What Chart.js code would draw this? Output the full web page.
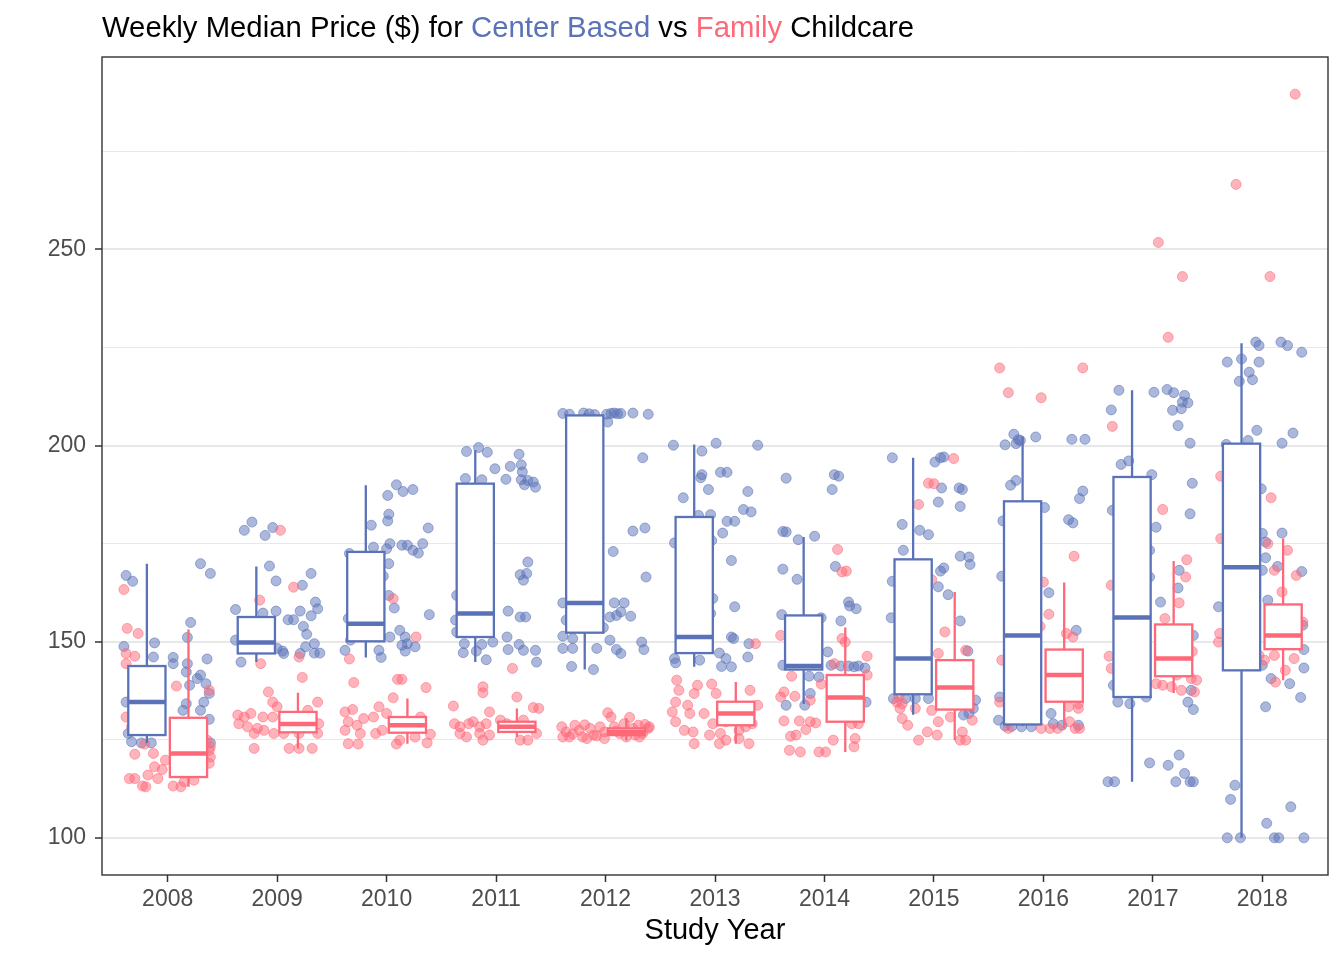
<!DOCTYPE html>
<html>
<head>
<meta charset="utf-8">
<script src="https://cdn.jsdelivr.net/npm/chart.js@4.4.0/dist/chart.umd.min.js"></script>
<style>
  body { margin: 0; background: #fff; }
  #wrap { position: relative; width: 1344px; height: 960px; }
  #title {
    position: absolute; left: 102px; top: 12px;
    font-family: "Liberation Sans", Arial, Helvetica, sans-serif;
    font-size: 29.3px; line-height: 29px; color: #000; white-space: nowrap;
  }
  .cb { color: #5a72b8; }
  .fam { color: #ff6878; }
</style>
</head>
<body>
<div id="wrap">
  <canvas id="boxChart" width="1344" height="960"></canvas>
  <div id="title">Weekly Median Price ($) for <span class="cb">Center Based</span> vs <span class="fam">Family</span> Childcare</div>
</div>
<script>
const years = [2008, 2009, 2010, 2011, 2012, 2013, 2014, 2015, 2016, 2017, 2018];
const yTickValues = [100, 125, 150, 175, 200, 225, 250, 275];
const yTickLabels = ['100', '', '150', '', '200', '', '250', ''];

// box stats: [lower whisker, q1, median, q3, upper whisker]
const centerBox = [
  [124.2, 126.2, 134.6, 143.8, 169.9],
  [144.8, 147.0, 149.8, 156.3, 169.2],
  [146.0, 150.1, 154.6, 172.9, 189.9],
  [144.8, 151.2, 157.2, 190.3, 198.9],
  [142.9, 152.3, 159.9, 207.7, 208.3],
  [143.6, 147.1, 151.2, 181.8, 200.3],
  [134.1, 142.9, 143.8, 156.7, 176.7],
  [131.4, 136.6, 145.7, 171.0, 196.9],
  [128.5, 128.9, 151.6, 185.8, 202.3],
  [114.3, 135.9, 156.2, 192.0, 214.1],
  [100.0, 142.7, 169.0, 200.5, 226.1]
];
const familyBox = [
  [113.0, 115.5, 121.5, 130.6, 153.1],
  [122.8, 126.9, 129.0, 132.1, 137.0],
  [124.0, 126.8, 128.7, 130.8, 135.5],
  [125.7, 127.0, 128.3, 129.6, 133.0],
  [124.8, 126.2, 127.0, 127.9, 130.5],
  [124.0, 128.7, 131.7, 134.7, 139.7],
  [121.9, 129.6, 135.8, 141.5, 153.6],
  [124.9, 132.7, 138.3, 145.3, 162.7],
  [127.9, 134.7, 141.5, 148.0, 165.1],
  [136.9, 141.2, 145.7, 154.4, 170.6],
  [140.2, 148.1, 151.6, 159.5, 176.3]
];

// jittered points: [year, jitter, price]
const centerPts = [
  [2008,-0.38,166.9],[2008,-0.32,165.4],[2008,0.30,169.9],[2008,0.39,167.4],[2008,0.21,154.9],[2008,0.18,151.1],
  [2008,-0.12,149.7],[2008,-0.40,148.8],[2008,-0.13,146.1],[2008,0.05,146.0],[2008,0.36,145.6],[2008,0.05,144.4],
  [2008,0.18,144.4],[2008,0.17,142.3],[2008,0.30,141.5],[2008,0.27,140.6],[2008,0.35,139.3],[2008,0.20,138.9],
  [2008,0.38,136.8],[2008,0.33,134.6],[2008,-0.38,134.6],[2008,0.17,134.2],[2008,0.14,132.5],[2008,0.30,132.5],
  [2008,0.38,130.2],[2008,-0.36,126.6],[2008,-0.33,124.5],[2008,-0.24,124.2],[2008,-0.15,124.2],[2008,0.39,124.2],
  [2009,-0.30,178.4],[2009,-0.23,180.5],[2009,-0.11,177.1],[2009,-0.04,179.1],[2009,-0.07,169.3],[2009,-0.01,165.5],
  [2009,0.31,167.4],[2009,0.23,164.4],[2009,-0.38,158.2],[2009,-0.13,157.3],[2009,-0.01,157.8],[2009,0.21,157.8],
  [2009,0.35,160.1],[2009,0.37,158.4],[2009,0.31,156.6],[2009,0.10,155.6],[2009,0.15,155.6],[2009,0.24,153.9],
  [2009,0.27,151.9],[2009,-0.38,150.4],[2009,-0.33,144.8],[2009,0.05,147.6],[2009,0.21,147.0],[2009,0.26,148.7],
  [2009,0.34,149.5],[2009,0.34,147.1],[2009,0.39,147.1],[2009,0.00,148.3],[2009,0.06,147.0],
  [2010,0.09,190.0],[2010,0.15,188.3],[2010,0.24,188.8],[2010,0.01,187.3],[2010,0.02,182.5],[2010,0.01,180.8],
  [2010,-0.14,179.7],[2010,0.38,179.0],[2010,0.03,175.0],[2010,0.14,174.6],[2010,0.19,174.6],[2010,0.24,173.3],
  [2010,0.29,172.6],[2010,0.33,175.0],[2010,-0.12,174.1],[2010,-0.34,172.5],[2010,0.00,173.7],[2010,0.02,169.9],
  [2010,-0.03,166.7],[2010,0.02,161.8],[2010,0.07,158.6],[2010,0.39,156.9],[2010,-0.35,155.9],[2010,0.12,152.9],
  [2010,0.03,151.2],[2010,0.17,151.2],[2010,0.19,149.5],[2010,0.26,148.7],[2010,0.14,149.1],[2010,-0.33,150.4],
  [2010,-0.38,147.8],[2010,-0.07,147.8],[2010,-0.05,146.0],[2010,0.17,147.6],
  [2011,-0.27,198.5],[2011,-0.16,199.5],[2011,-0.08,198.3],[2011,-0.01,194.1],[2011,0.13,194.7],[2011,0.21,197.8],
  [2011,0.23,195.1],[2011,0.24,193.3],[2011,0.09,191.4],[2011,0.23,191.3],[2011,0.29,191.1],[2011,0.34,190.7],
  [2011,0.26,190.0],[2011,0.36,189.4],[2011,-0.28,191.6],[2011,-0.13,191.3],[2011,0.29,170.3],[2011,0.22,167.1],
  [2011,0.28,167.4],[2011,0.25,165.7],[2011,-0.36,161.8],[2011,0.11,157.8],[2011,-0.37,155.5],[2011,0.22,156.3],
  [2011,0.27,156.3],[2011,-0.36,152.5],[2011,-0.29,149.5],[2011,-0.30,147.2],[2011,-0.13,149.3],[2011,-0.03,149.9],
  [2011,0.10,151.2],[2011,0.11,148.0],[2011,0.21,149.3],[2011,0.25,147.8],[2011,0.36,147.8],[2011,-0.09,145.4],
  [2011,0.37,144.8],[2011,-0.18,147.6],
  [2012,-0.39,208.2],[2012,-0.33,208.0],[2012,-0.20,208.3],[2012,-0.15,208.1],[2012,-0.10,207.9],[2012,0.01,208.0],
  [2012,0.05,208.2],[2012,0.08,208.3],[2012,0.11,208.1],[2012,0.14,208.2],[2012,0.25,208.3],[2012,0.39,208.0],
  [2012,0.02,206.0],[2012,0.34,196.9],[2012,0.25,178.2],[2012,0.36,179.0],[2012,0.07,173.0],[2012,0.37,166.5],
  [2012,-0.39,159.9],[2012,0.08,159.9],[2012,0.17,159.9],[2012,0.14,157.6],[2012,0.10,156.7],[2012,0.04,156.3],
  [2012,0.23,156.5],[2012,-0.36,155.5],[2012,-0.02,153.6],[2012,-0.39,151.4],[2012,-0.30,150.8],[2012,0.04,150.4],
  [2012,-0.39,148.3],[2012,-0.30,148.3],[2012,-0.08,148.3],[2012,0.10,148.0],[2012,0.14,147.0],[2012,0.33,149.9],
  [2012,0.35,148.0],[2012,-0.31,143.7],[2012,-0.11,142.9],
  [2013,-0.38,200.1],[2013,0.01,200.6],[2013,0.39,200.1],[2013,-0.12,198.6],[2013,-0.12,192.6],[2013,-0.13,191.8],
  [2013,0.05,193.2],[2013,0.11,193.2],[2013,-0.06,188.8],[2013,0.30,188.3],[2013,-0.29,186.7],[2013,0.26,183.7],
  [2013,0.33,183.1],[2013,-0.15,182.2],[2013,-0.04,182.4],[2013,0.11,180.7],[2013,0.18,180.7],[2013,0.07,177.7],
  [2013,-0.37,175.2],[2013,-0.03,175.8],[2013,0.15,170.7],[2013,-0.02,161.0],[2013,-0.04,157.2],[2013,0.18,158.9],
  [2013,0.15,151.2],[2013,0.17,150.8],[2013,0.31,149.5],[2013,0.30,146.1],[2013,0.04,147.1],[2013,0.10,145.7],
  [2013,-0.37,145.7],[2013,-0.36,144.6],[2013,-0.14,145.3],[2013,0.06,143.7],[2013,0.15,143.6],
  [2014,-0.35,191.7],[2014,0.09,192.6],[2014,0.13,192.2],[2014,0.07,188.8],[2014,-0.38,178.1],[2014,-0.35,178.0],
  [2014,-0.24,176.0],[2014,-0.09,176.9],[2014,-0.38,168.5],[2014,-0.25,165.9],[2014,0.10,169.2],[2014,0.22,160.1],
  [2014,0.23,159.1],[2014,0.29,158.4],[2014,-0.39,156.9],[2014,-0.03,156.1],[2014,0.15,155.3],[2014,0.03,147.4],
  [2014,0.06,144.0],[2014,0.15,143.8],[2014,0.22,143.8],[2014,0.27,143.6],[2014,0.31,143.8],[2014,0.37,143.3],
  [2014,-0.38,144.0],[2014,-0.14,141.2],[2014,-0.05,141.0],[2014,-0.13,136.8],[2014,-0.35,133.8],[2014,-0.18,133.8],
  [2014,0.38,134.6],
  [2015,-0.38,196.9],[2015,0.01,195.8],[2015,0.06,196.9],[2015,0.09,197.1],[2015,0.07,189.2],[2015,0.23,189.2],
  [2015,0.26,188.8],[2015,0.24,184.5],[2015,0.04,185.6],[2015,-0.29,179.9],[2015,-0.13,178.4],[2015,-0.05,177.3],
  [2015,-0.28,173.3],[2015,0.24,171.8],[2015,0.32,171.6],[2015,0.33,169.7],[2015,0.06,168.0],[2015,0.09,168.8],
  [2015,-0.38,165.4],[2015,0.04,164.0],[2015,0.13,162.0],[2015,-0.39,156.1],[2015,0.24,155.3],[2015,0.31,147.6],
  [2015,-0.37,135.5],[2015,-0.26,135.5],[2015,-0.17,135.5],[2015,-0.05,135.5],[2015,0.27,131.3],[2015,0.32,131.7],
  [2015,0.38,135.1],[2015,0.36,133.0],
  [2016,-0.35,200.2],[2016,-0.27,202.9],[2016,-0.23,201.5],[2016,-0.21,201.3],[2016,-0.25,200.5],[2016,-0.07,202.2],
  [2016,0.26,201.6],[2016,0.38,201.6],[2016,-0.25,191.1],[2016,-0.30,189.9],[2016,0.01,184.2],[2016,0.36,188.4],
  [2016,0.33,186.5],[2016,0.23,181.1],[2016,0.27,180.3],[2016,-0.37,180.8],[2016,-0.38,166.7],[2016,0.05,162.5],
  [2016,0.30,152.9],[2016,-0.40,135.9],[2016,0.07,131.7],[2016,-0.41,130.0],[2016,-0.35,128.5],[2016,-0.29,128.4],
  [2016,-0.20,128.3],[2016,-0.11,128.3],[2016,0.09,129.1],[2016,0.17,128.7],[2016,0.32,128.7],
  [2017,-0.31,214.1],[2017,-0.38,209.1],[2017,0.01,213.6],[2017,0.13,214.3],[2017,0.19,213.5],[2017,0.29,212.8],
  [2017,0.27,211.1],[2017,0.32,210.9],[2017,0.26,209.4],[2017,0.18,209.0],[2017,0.23,205.1],[2017,0.34,200.6],
  [2017,-0.29,195.2],[2017,-0.22,196.1],[2017,-0.01,192.6],[2017,0.36,190.4],[2017,-0.37,183.5],[2017,0.03,179.2],
  [2017,0.34,182.6],[2017,-0.03,173.3],[2017,-0.03,166.5],[2017,0.24,168.2],[2017,0.23,163.7],[2017,0.07,160.1],
  [2017,0.37,151.6],[2017,-0.36,138.9],[2017,-0.32,134.6],[2017,-0.21,134.2],[2017,-0.06,135.9],[2017,0.32,134.6],
  [2017,0.37,132.7],[2017,0.35,137.6],[2017,-0.03,119.1],[2017,0.14,118.5],[2017,0.24,121.1],[2017,0.29,116.4],
  [2017,-0.41,114.3],[2017,-0.35,114.3],[2017,0.21,114.3],[2017,0.34,114.3],[2017,0.37,114.3],
  [2018,-0.32,221.3],[2018,-0.19,222.1],[2018,-0.06,226.4],[2018,-0.03,225.5],[2018,-0.03,221.3],[2018,-0.12,218.7],
  [2018,-0.21,216.4],[2018,-0.09,216.8],[2018,0.17,226.4],[2018,0.23,225.5],[2018,0.36,223.8],[2018,-0.05,203.9],
  [2018,0.28,203.2],[2018,0.18,200.6],[2018,-0.13,201.3],[2018,-0.33,200.3],[2018,-0.01,189.0],[2018,0.00,177.6],
  [2018,0.03,175.4],[2018,0.18,177.7],[2018,0.03,171.4],[2018,0.00,168.2],[2018,0.14,169.2],[2018,0.36,167.9],
  [2018,-0.40,158.9],[2018,0.05,160.6],[2018,0.37,154.2],[2018,0.38,148.0],[2018,0.38,143.3],[2018,0.00,144.0],
  [2018,0.25,139.3],[2018,0.08,140.6],[2018,0.35,135.8],[2018,0.03,133.4],[2018,-0.25,113.4],[2018,-0.29,109.8],
  [2018,0.26,107.9],[2018,0.04,103.7],[2018,-0.32,100.0],[2018,-0.20,100.0],[2018,0.11,100.0],[2018,0.15,100.0],
  [2018,0.38,100.0]
];

const familyPts = [
  [2008,-0.40,163.3],[2008,-0.37,153.4],[2008,-0.27,152.1],[2008,-0.38,147.0],[2008,-0.30,146.3],[2008,-0.38,144.4],
  [2008,0.08,138.7],[2008,0.38,137.6],[2008,-0.38,130.8],[2008,-0.33,128.3],[2008,-0.21,123.9],[2008,-0.30,121.3],
  [2008,-0.13,121.5],[2008,-0.02,119.8],[2008,-0.12,118.1],[2008,-0.05,117.4],[2008,-0.35,115.1],[2008,-0.30,115.1],
  [2008,-0.18,116.0],[2008,-0.09,115.1],[2008,-0.23,113.2],[2008,-0.20,113.0],[2008,0.05,113.2],[2008,0.12,113.0],
  [2008,0.15,114.3],[2008,0.24,114.7],[2008,0.38,122.3],[2008,0.39,120.6],[2008,0.38,119.0],[2008,0.39,123.2],
  [2008,0.36,124.9],
  [2009,0.03,178.4],[2009,0.15,163.9],[2009,-0.16,160.6],[2009,-0.15,144.4],[2009,0.20,146.1],[2009,0.23,140.9],
  [2009,-0.08,137.2],[2009,-0.04,134.6],[2009,0.00,133.4],[2009,-0.36,131.3],[2009,-0.30,130.8],[2009,-0.24,131.7],
  [2009,-0.35,129.1],[2009,-0.27,128.3],[2009,-0.18,127.9],[2009,-0.12,127.4],[2009,-0.21,126.6],[2009,-0.03,126.6],
  [2009,-0.13,130.8],[2009,-0.04,130.8],[2009,-0.21,122.8],[2009,0.11,122.8],[2009,0.20,122.8],[2009,0.32,122.8],
  [2009,0.06,126.6],[2009,0.37,126.6],[2009,0.37,134.6],[2009,0.28,132.5],[2009,0.38,129.1],[2009,0.20,126.6],
  [2010,0.06,161.0],[2010,0.27,151.2],[2010,-0.34,145.6],[2010,-0.30,139.6],[2010,0.10,140.4],[2010,0.14,140.4],
  [2010,0.36,138.3],[2010,0.06,135.7],[2010,-0.38,132.1],[2010,-0.31,132.7],[2010,-0.21,130.4],[2010,-0.07,133.4],
  [2010,-0.12,130.8],[2010,0.00,131.7],[2010,-0.35,129.6],[2010,-0.27,128.7],[2010,-0.38,127.4],[2010,-0.24,126.6],
  [2010,-0.10,126.6],[2010,-0.04,127.4],[2010,-0.35,124.0],[2010,-0.26,123.9],[2010,0.09,123.9],[2010,0.12,124.9],
  [2010,0.26,125.7],[2010,0.37,124.2],[2010,0.40,126.4],[2010,0.31,130.8],
  [2011,0.15,143.2],[2011,-0.12,138.5],[2011,-0.12,137.0],[2011,0.19,135.9],[2011,-0.39,133.6],[2011,0.34,133.2],
  [2011,0.39,133.0],[2011,-0.06,132.1],[2011,-0.38,129.1],[2011,-0.33,128.3],[2011,-0.25,129.1],[2011,-0.21,129.6],
  [2011,-0.15,128.3],[2011,-0.09,129.1],[2011,-0.33,126.6],[2011,-0.27,125.7],[2011,-0.15,126.6],[2011,-0.06,126.2],
  [2011,0.04,130.0],[2011,0.10,129.1],[2011,0.25,130.0],[2011,0.31,128.3],[2011,0.37,126.6],[2011,0.22,124.9],
  [2011,0.29,124.9],[2011,-0.12,124.9],
  [2012,-0.40,128.3],[2012,-0.36,127.0],[2012,-0.33,125.7],[2012,-0.28,128.7],[2012,-0.24,127.4],[2012,-0.21,125.7],
  [2012,-0.14,127.9],[2012,-0.11,126.2],[2012,-0.05,128.3],[2012,-0.01,127.0],[2012,0.02,131.9],[2012,0.05,130.8],
  [2012,0.08,128.3],[2012,0.13,126.6],[2012,0.17,129.1],[2012,0.22,130.7],[2012,0.25,127.9],[2012,0.30,128.7],
  [2012,0.34,126.6],[2012,0.39,127.9],[2012,0.40,128.3],[2012,-0.01,125.3],[2012,-0.17,125.3],[2012,0.19,125.7],
  [2012,0.31,125.7],[2012,-0.39,125.7],[2012,-0.30,126.5],[2012,-0.08,126.0],[2012,0.10,127.2],[2012,0.27,126.2],
  [2012,0.36,128.9],[2012,-0.19,128.8],
  [2013,0.37,149.5],[2013,-0.35,140.2],[2013,-0.16,138.9],[2013,-0.03,139.2],[2013,-0.19,136.8],[2013,-0.33,137.6],
  [2013,0.01,136.8],[2013,0.32,137.6],[2013,-0.39,132.1],[2013,-0.36,134.6],[2013,-0.25,133.8],[2013,-0.23,131.7],
  [2013,-0.10,131.7],[2013,-0.02,129.1],[2013,-0.36,129.6],[2013,-0.28,127.4],[2013,-0.20,127.0],[2013,-0.05,126.2],
  [2013,-0.19,124.0],[2013,0.04,124.0],[2013,0.10,124.9],[2013,0.22,125.3],[2013,0.31,124.0],[2013,0.34,129.1],
  [2013,0.39,133.8],[2013,0.28,128.3],[2013,0.22,127.4],[2013,0.05,126.6],[2013,0.10,129.6],
  [2014,0.12,173.5],[2014,0.16,167.8],[2014,0.20,168.0],[2014,-0.40,151.6],[2014,0.16,150.8],[2014,0.19,149.9],
  [2014,0.39,146.3],[2014,0.09,144.4],[2014,-0.30,141.2],[2014,-0.03,139.2],[2014,-0.37,137.2],[2014,-0.40,135.9],
  [2014,-0.13,135.1],[2014,-0.27,136.1],[2014,-0.37,129.8],[2014,-0.23,129.8],[2014,-0.13,129.6],[2014,-0.08,129.3],
  [2014,-0.17,127.6],[2014,-0.31,125.9],[2014,-0.26,126.2],[2014,-0.32,122.3],[2014,-0.22,121.9],[2014,-0.05,121.9],
  [2014,0.01,121.9],[2014,0.08,124.9],[2014,0.27,123.2],[2014,0.28,125.3],[2014,0.31,129.1],[2014,0.25,129.1],
  [2014,0.39,141.5],[2014,0.33,135.1],
  [2015,0.18,196.7],[2015,-0.05,190.4],[2015,0.00,190.3],[2015,-0.14,185.0],[2015,-0.02,165.8],[2015,0.10,152.5],
  [2015,0.29,147.8],[2015,0.04,147.0],[2015,-0.34,134.6],[2015,-0.29,134.2],[2015,-0.31,133.0],[2015,-0.17,133.0],
  [2015,-0.02,132.5],[2015,-0.29,130.4],[2015,-0.24,128.7],[2015,0.04,129.6],[2015,0.15,130.8],[2015,-0.06,127.0],
  [2015,0.03,126.2],[2015,-0.14,124.9],[2015,0.26,127.0],[2015,0.24,124.9],[2015,0.29,124.9],[2015,0.35,130.0],
  [2015,-0.32,135.9],
  [2016,-0.40,219.8],[2016,-0.32,213.5],[2016,-0.02,212.2],[2016,0.36,219.8],[2016,0.28,171.8],[2016,0.00,165.2],
  [2016,0.05,157.0],[2016,0.21,152.1],[2016,0.27,151.2],[2016,-0.03,153.9],[2016,-0.38,145.3],[2016,-0.40,134.6],
  [2016,0.32,134.2],[2016,0.32,133.0],[2016,0.24,129.6],[2016,-0.32,127.9],[2016,-0.02,127.9],[2016,0.06,127.9],
  [2016,0.13,127.9],[2016,0.29,127.9],[2016,0.33,127.9],[2016,0.23,133.4],[2016,0.32,138.5],
  [2017,0.14,227.6],[2017,0.05,251.8],[2017,0.27,243.1],[2017,-0.37,204.9],[2017,0.09,183.7],[2017,0.31,170.9],
  [2017,0.30,166.5],[2017,0.24,159.9],[2017,0.11,155.9],[2017,-0.38,164.4],[2017,-0.40,146.3],[2017,-0.38,143.2],
  [2017,0.03,139.3],[2017,0.09,138.9],[2017,0.17,138.5],[2017,0.35,140.6],[2017,0.40,140.2],[2017,0.26,137.6],
  [2017,0.38,137.2],[2017,0.22,141.5],[2017,0.31,143.0],[2017,0.36,147.5],
  [2018,-0.24,266.6],[2018,0.07,243.1],[2018,0.30,289.6],[2018,0.08,186.7],[2018,-0.38,192.2],[2018,-0.38,176.3],
  [2018,0.05,175.0],[2018,0.23,173.3],[2018,0.31,166.9],[2018,0.11,168.2],[2018,0.18,162.7],[2018,-0.39,152.1],
  [2018,-0.40,149.9],[2018,0.11,146.5],[2018,0.29,145.7],[2018,0.12,139.7],[2018,0.21,142.7],[2018,0.02,145.3],
  [2018,0.37,155.0],[2018,0.30,150.4],[2018,-0.03,146.5]
];

const blue = '#5a72b8';
const pink = '#ff6878';
const boxOffset = 0.19;
const boxWidth = 0.34;

const toXY = p => ({ x: p[0] + p[1], y: p[2] });

const boxPlugin = {
  id: 'boxes',
  afterDatasetsDraw(chart) {
    const { ctx, scales: { x, y } } = chart;
    const drawSet = (stats, shift, color) => {
      stats.forEach((s, i) => {
        const c = years[i] + shift;
        const l = x.getPixelForValue(c - boxWidth / 2);
        const r = x.getPixelForValue(c + boxWidth / 2);
        const cx = x.getPixelForValue(c);
        const [lo, q1, med, q3, hi] = s.map(v => y.getPixelForValue(v));
        ctx.save();
        ctx.strokeStyle = color;
        ctx.lineWidth = 2.3;
        ctx.beginPath();
        ctx.moveTo(cx, hi); ctx.lineTo(cx, q3);
        ctx.moveTo(cx, q1); ctx.lineTo(cx, lo);
        ctx.stroke();
        ctx.fillStyle = '#fff';
        ctx.fillRect(l, q3, r - l, q1 - q3);
        ctx.strokeRect(l, q3, r - l, q1 - q3);
        ctx.lineWidth = 4.5;
        ctx.beginPath();
        ctx.moveTo(l, med); ctx.lineTo(r, med);
        ctx.stroke();
        ctx.restore();
      });
    };
    drawSet(centerBox, -boxOffset, blue);
    drawSet(familyBox, boxOffset, pink);
  },
  afterDraw(chart) {
    const { ctx, chartArea: a } = chart;
    ctx.save();
    ctx.strokeStyle = '#333333';
    ctx.lineWidth = 1.4;
    ctx.strokeRect(a.left, a.top, a.right - a.left, a.bottom - a.top);
    ctx.restore();
  }
};

const ctx = document.getElementById('boxChart').getContext('2d');
new Chart(ctx, {
  type: 'scatter',
  data: {
    datasets: [{
      label: 'Center Based',
      data: centerPts.map(toXY),
      backgroundColor: 'rgba(90, 114, 184, 0.5)',
      borderColor: 'rgba(90, 114, 184, 0.55)',
      borderWidth: 1,
      pointRadius: 5,
      order: 1
    }, {
      label: 'Family',
      data: familyPts.map(toXY),
      backgroundColor: 'rgba(255, 104, 120, 0.5)',
      borderColor: 'rgba(255, 104, 120, 0.55)',
      borderWidth: 1,
      pointRadius: 5,
      order: 0
    }]
  },
  options: {
    responsive: false,
    animation: false,
    layout: { padding: { left: 0, top: 57, right: 16, bottom: 0 } },
    plugins: {
      legend: { display: false },
      tooltip: { enabled: false }
    },
    scales: {
      x: {
        type: 'linear',
        min: 2007.4,
        max: 2018.6,
        afterBuildTicks: s => { s.ticks = years.map(v => ({ value: v })); },
        afterFit: s => { s.height = 85; },
        border: { display: false },
        grid: {
          drawOnChartArea: false,
          drawTicks: true,
          tickLength: 7,
          tickColor: '#333333',
          tickWidth: 1.5
        },
        ticks: {
          padding: 4,
          color: '#4d4d4d',
          font: { family: '"Liberation Sans", Arial, sans-serif', size: 23 },
          callback: v => String(v),
          maxRotation: 0
        },
        title: {
          display: true,
          text: 'Study Year',
          color: '#000',
          font: { family: '"Liberation Sans", Arial, sans-serif', size: 29 },
          padding: { top: 0, bottom: 12 }
        }
      },
      y: {
        min: 90.52,
        max: 299.08,
        afterBuildTicks: s => { s.ticks = yTickValues.map(v => ({ value: v })); },
        afterFit: s => { s.width = 102; },
        border: { display: false },
        grid: {
          color: '#e8e8e8',
          lineWidth: c => (c.index % 2 === 0 ? 2 : 1),
          tickLength: 7,
          tickColor: c => (c.index % 2 === 0 ? '#333333' : 'rgba(0,0,0,0)'),
          tickWidth: 1.5
        },
        ticks: {
          padding: 9,
          color: '#4d4d4d',
          font: { family: '"Liberation Sans", Arial, sans-serif', size: 23 },
          callback: (v, i) => yTickLabels[i]
        }
      }
    }
  },
  plugins: [boxPlugin]
});
</script>
</body>
</html>
